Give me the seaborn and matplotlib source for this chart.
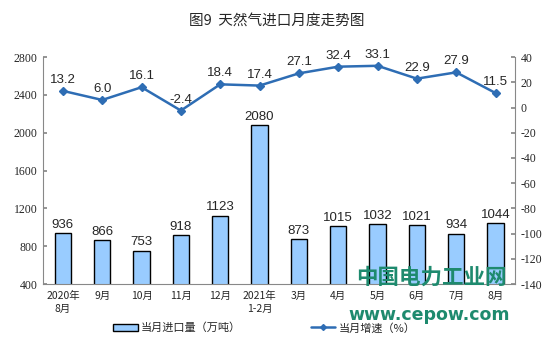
import matplotlib
matplotlib.use("Agg")
import matplotlib.pyplot as plt
import seaborn as sns
import pandas as pd
import numpy as np

categories = ["2020年\n8月", "9月", "10月", "11月", "12月", "2021年\n1-2月", "3月", "4月", "5月", "6月", "7月", "8月"]
volume = [936, 866, 753, 918, 1123, 2080, 873, 1015, 1032, 1021, 934, 1044]
growth = [13.2, 6.0, 16.1, -2.4, 18.4, 17.4, 27.1, 32.4, 33.1, 22.9, 27.9, 11.5]
left_ticks = [400, 800, 1200, 1600, 2000, 2400, 2800]
right_ticks = [-140, -120, -100, -80, -60, -40, -20, 0, 20, 40]

sns.set_theme(style="white")
plt.rcParams['font.family'] = ['Noto Sans CJK SC', 'DejaVu Sans']

df = pd.DataFrame({"cat": categories, "vol": volume, "gr": growth})

fig = plt.figure(figsize=(5.54, 3.46), dpi=100)
ax = fig.add_axes([0.078, 0.179, 0.852, 0.656])
sns.barplot(data=df, x="cat", y="vol", ax=ax, color="#99CCFF", edgecolor="black",
            linewidth=1.0, width=0.42, saturation=1)
ax.set_ylim(400, 2800)
ax.set_yticks(left_ticks)
ax.set_yticklabels([str(t) for t in left_ticks], family="Liberation Serif", fontsize=8.5)
ax.set_xlim(-0.5, len(categories) - 0.5)
ax.set_xlabel("")
ax.set_ylabel("")
ax.set_xticks(range(len(categories)))
ax.set_xticklabels(categories, fontsize=7.5, linespacing=1.3)
ax.set_xticks(np.arange(-0.5, len(categories), 1), minor=True)
ax.tick_params(axis="x", which="major", length=0, pad=5)
ax.tick_params(axis="x", which="minor", length=3, direction="out", color="#888888")
ax.tick_params(axis="y", length=3, direction="in", color="#888888", pad=4)
for s in ["top", "right"]:
    ax.spines[s].set_visible(False)
for s in ["left", "bottom"]:
    ax.spines[s].set_color("#888888")
    ax.spines[s].set_linewidth(0.8)

for i, v in enumerate(volume):
    ax.text(i, v + 25, str(v), ha="center", va="bottom", fontsize=9.5,
            family="Liberation Sans")

ax2 = ax.twinx()
ax2.plot(range(len(categories)), growth, color="#2E6DB4", linewidth=1.8,
         marker="D", markersize=4)
ax2.set_ylim(-140, 40)
ax2.set_yticks(right_ticks)
ax2.set_yticklabels([str(t) for t in right_ticks], family="Liberation Serif", fontsize=8.5)
ax2.tick_params(axis="y", length=3, direction="in", color="#888888", pad=4)
ax2.grid(False)
ax.grid(False)
for s in ["top", "left", "bottom"]:
    ax2.spines[s].set_visible(False)
ax2.spines["right"].set_color("#888888")
ax2.spines["right"].set_linewidth(0.8)
for i, g in enumerate(growth):
    ax2.text(i, g + 4, f"{g:.1f}", ha="center", va="bottom", fontsize=9.5,
             family="Liberation Sans")

fig.text(0.5, 0.94, "图9  天然气进口月度走势图", ha="center", va="center", fontsize=10.5)

from matplotlib.patches import Patch
from matplotlib.lines import Line2D
h1 = Patch(facecolor="#99CCFF", edgecolor="black", linewidth=1.0)
h2 = Line2D([0], [0], color="#2E6DB4", linewidth=1.8, marker="D", markersize=3)
fig.legend([h1], ["当月进口量（万吨）"], loc="center", bbox_to_anchor=(0.32, 0.052),
           frameon=False, fontsize=8, handlelength=2.2, handletextpad=0.3)
fig.legend([h2], ["当月增速（%）"], loc="center", bbox_to_anchor=(0.655, 0.052),
           frameon=False, fontsize=8, handlelength=2.2, handletextpad=0.3)

fig.text(0.778, 0.2, "中国电力工业网", ha="center", va="center", fontsize=15.5,
         color="#1E8A6E", fontweight="bold")
fig.text(0.775, 0.09, "www.cepow.com", ha="center", va="center", fontsize=12.5,
         color="#1E8A6E", fontweight="bold", family="DejaVu Sans")

fig.savefig("out.png", dpi=100)
